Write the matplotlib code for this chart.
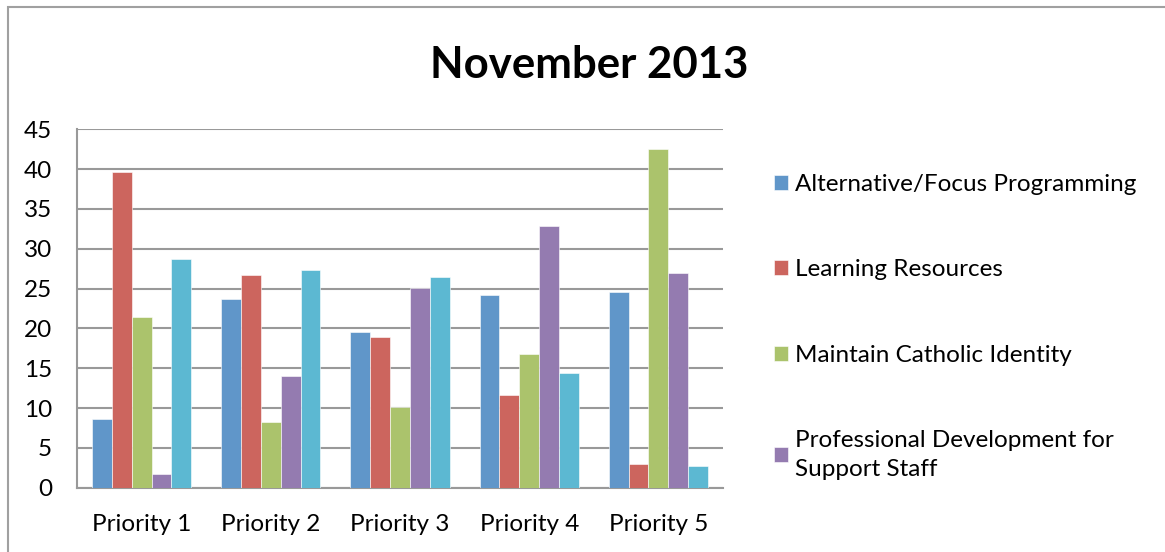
import matplotlib.pyplot as plt
import numpy as np
from matplotlib.patches import Rectangle

plt.rcParams['font.family'] = ['Lato', 'DejaVu Sans']

# --- data ---
priorities = ["Priority 1", "Priority 2", "Priority 3", "Priority 4", "Priority 5"]
series_names = ["Alternative/Focus Programming", "Learning Resources",
                "Maintain Catholic Identity",
                "Professional Development for\nSupport Staff", "Other"]
alt_focus = [8.6, 23.7, 19.5, 24.2, 24.6]
learning = [39.6, 26.7, 18.9, 11.7, 3.0]
catholic = [21.4, 8.3, 10.1, 16.8, 42.5]
prof_dev = [1.7, 14.0, 25.1, 32.9, 27.0]
other = [28.7, 27.3, 26.4, 14.4, 2.7]
colors = ["#6096c9", "#cc655e", "#abc36c", "#947bb0", "#5cb8d2"]

fig = plt.figure(figsize=(11.65, 5.52), dpi=100)
fig.patches.append(Rectangle((8 / 1165, -0.1), 1.2, 1 - 7 / 552 + 0.1,
                             transform=fig.transFigure, fill=False,
                             edgecolor="#a0a0a0", linewidth=1.5))

ax = fig.add_axes([77 / 1165, 1 - 487.7 / 552, 646 / 1165, 358.4 / 552])
x = np.arange(len(priorities))
w = 1 / 6.5
all_series = [alt_focus, learning, catholic, prof_dev, other]
bars = []
for i, vals in enumerate(all_series):
    b = ax.bar(x + (i - 2) * w, vals, w, color=colors[i], zorder=3,
               edgecolor="white", linewidth=0.4)
    bars.append(b)

ax.set_xlim(-0.5, 4.5)
ax.set_ylim(0, 45)
ax.set_yticks(range(0, 46, 5))
ax.set_xticks(x)
ax.set_xticklabels(priorities)
ax.tick_params(length=0, labelsize=17.5)
ax.tick_params(axis='x', pad=19)
ax.tick_params(axis='y', pad=18)
ax.yaxis.grid(True, color="#999999", linewidth=1.5, zorder=0)
for s in ["top", "right"]:
    ax.spines[s].set_visible(False)
for s in ["left", "bottom"]:
    ax.spines[s].set_color("#999999")
    ax.spines[s].set_linewidth(1.5)

fig.text(0.506, 0.882, "November 2013", ha="center", va="center",
         fontsize=31.5, fontweight="bold")

leg = fig.legend(bars[:4], series_names[:4], loc="upper left",
                 bbox_to_anchor=(752 / 1165, 1 - 152 / 552), frameon=False,
                 fontsize=17.5, handlelength=0.58, handleheight=0.58,
                 handletextpad=0.3, labelspacing=2.65)
for t in leg.get_texts():
    t.set_linespacing(1.45)

fig.savefig("out.png", dpi=100)
